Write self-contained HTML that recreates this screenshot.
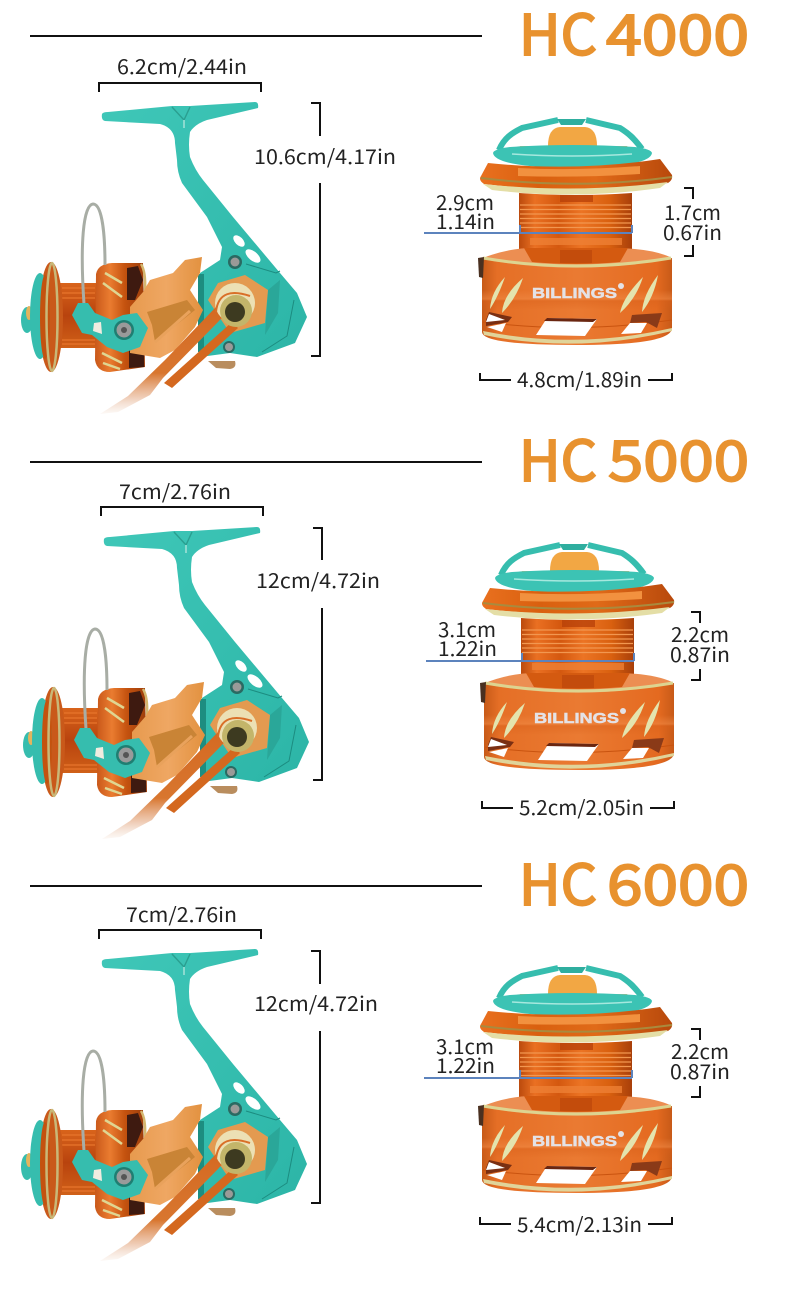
<!DOCTYPE html>
<html><head><meta charset="utf-8"><style>
html,body{margin:0;padding:0;background:#fff}
svg{display:block}
.l{font-family:"Noto Sans CJK SC","DejaVu Sans",sans-serif;font-size:20px;fill:#222}
.t{font-family:"Noto Sans CJK SC","Liberation Sans",sans-serif;font-weight:400;font-size:56px;fill:#e8922f;stroke:#e8922f;stroke-width:1.9px}
.k{fill:none;stroke:#111;stroke-width:2}
.b{fill:none;stroke:#5c83bd;stroke-width:2}
.br{font-family:"Liberation Sans",sans-serif;font-weight:700;font-size:15px;fill:#e4e2e6;stroke:#e4e2e6;stroke-width:.5px}
</style></head><body>
<svg width="790" height="1303" viewBox="0 0 790 1303" xmlns="http://www.w3.org/2000/svg">
<defs>
<linearGradient id="og" x1="0" x2="1" y1="0" y2="0"><stop offset="0" stop-color="#c75a18"/><stop offset=".08" stop-color="#e56f26"/><stop offset=".5" stop-color="#ea7a32"/><stop offset=".92" stop-color="#e46a20"/><stop offset="1" stop-color="#c75a18"/></linearGradient>
<linearGradient id="og2" x1="0" x2="0" y1="0" y2="1"><stop offset="0" stop-color="#f08a46" stop-opacity="0"/><stop offset=".45" stop-color="#f08a46" stop-opacity=".55"/><stop offset=".55" stop-color="#d8601a" stop-opacity=".4"/><stop offset="1" stop-color="#d8601a" stop-opacity="0"/></linearGradient>
<linearGradient id="ng" x1="0" x2="1" y1="0" y2="0"><stop offset="0" stop-color="#bb4a0d"/><stop offset=".14" stop-color="#ea7022"/><stop offset=".35" stop-color="#d4580f"/><stop offset=".55" stop-color="#ec7424"/><stop offset=".8" stop-color="#d9600f"/><stop offset="1" stop-color="#a83f0a"/></linearGradient>
<linearGradient id="ft" x1="0" x2="1" y1="0" y2="0"><stop offset="0" stop-color="#e9701f"/><stop offset=".3" stop-color="#d9600f"/><stop offset=".6" stop-color="#e06a18"/><stop offset="1" stop-color="#b8490c"/></linearGradient>
<linearGradient id="rg" gradientUnits="userSpaceOnUse" x1="0" x2="0" y1="295" y2="415"><stop offset="0" stop-color="#d4671f"/><stop offset=".65" stop-color="#d8762f"/><stop offset=".85" stop-color="#e8b695" stop-opacity=".7"/><stop offset="1" stop-color="#f0dacb" stop-opacity=".15"/></linearGradient>
<linearGradient id="tg" x1="0" x2="1" y1="0" y2="1"><stop offset="0" stop-color="#3fc7b8"/><stop offset="1" stop-color="#2cb5a7"/></linearGradient>
<linearGradient id="bg" x1="0" x2="1" y1="0" y2="0"><stop offset="0" stop-color="#e79a4e"/><stop offset=".5" stop-color="#efa763"/><stop offset="1" stop-color="#e2913f"/></linearGradient>
<linearGradient id="sp" x1="0" x2="0" y1="0" y2="1"><stop offset="0" stop-color="#d9641b"/><stop offset=".5" stop-color="#b8430e"/><stop offset="1" stop-color="#d06018"/></linearGradient>
<linearGradient id="rt" x1="0" x2="1" y1="0" y2="0"><stop offset="0" stop-color="#c9581a"/><stop offset=".3" stop-color="#ea7c30"/><stop offset=".6" stop-color="#c4520f"/><stop offset="1" stop-color="#9c3d0b"/></linearGradient>

<g id="reel">
  <!-- spool -->
  <rect x="60" y="283" width="36" height="65" fill="url(#sp)"/>
  <path d="M62 288H95M62 293H95M62 298H95M62 340H95M62 344H95" stroke="#e8752c" stroke-width="1.3"/>
  <ellipse cx="27" cy="320" rx="6" ry="13" fill="#36bdae"/>
  <ellipse cx="29" cy="313" rx="3" ry="7" fill="#e2b45e"/>
  <ellipse cx="51" cy="317" rx="12" ry="55" fill="#c9591a"/>
  <ellipse cx="40" cy="316" rx="10" ry="43" fill="#36bdae"/>
  <ellipse cx="45" cy="317" rx="5" ry="42" fill="#c4520f"/>
  <ellipse cx="52" cy="317" rx="5.5" ry="54" fill="none" stroke="#c9b878" stroke-width="2.5"/>
  <!-- rotor -->
  <path d="M96 274Q98 264 112 263L143 263L145 367L110 372Q97 372 95 360Z" fill="url(#rt)"/>
  <path d="M127 268L138 266L143 280L135 300L127 300ZM129 350L144 352L144 367L129 368Z" fill="#3e1a10"/>
  <path d="M141 264Q146 272 145 290" fill="none" stroke="#d4b870" stroke-width="2.5"/>
  <path d="M105 273L122 283M103 283L122 297M102 353L122 363M103 363L120 369" stroke="#dfd692" stroke-width="2.5"/>
  <!-- wire -->
  <path d="M84 304C80 245 83 205 93 204C103 204 105 240 105 265" fill="none" stroke="#a8ada5" stroke-width="3"/>
  <!-- arm/body -->
  <path d="M102 114Q103 112 108 112L172 106L190 106L255 102Q259 102 258 108L207 120Q195 124 190 132Q188 145 190 157Q195 170 203 180L233 217L280 273L297 293L307 317L295 343L257 357L230 353L200 357L200 273L220 260L222 247L207 217L182 183Q177 172 177 160L175 143Q175 128 160 124L105 121Q101 120 102 114Z" fill="url(#tg)"/>
  <path d="M172 107L184 120L190 107" fill="none" stroke="#2a9f90" stroke-width="1.4"/>
  <path d="M184 120L184 128" stroke="#a6e2d8" stroke-width="1.5"/>
  <ellipse cx="239" cy="241" rx="7" ry="4" fill="#fff" transform="rotate(45 239 241)"/>
  <ellipse cx="253" cy="256" rx="9" ry="4.5" fill="#fff" transform="rotate(40 253 256)"/>
  <path d="M246 264L276 273L280 271" fill="none" stroke="#1c8c80" stroke-width="1"/>
  <path d="M294 300L287 336L262 352" fill="none" stroke="#1c8c80" stroke-width="1"/>
  <rect x="198" y="274" width="6" height="78" fill="#1d8d80"/>
  <path d="M268 290L280 280L278 313L265 335Z" fill="#2aa799"/>
  <circle cx="235" cy="262" r="7" fill="#2a6a62"/><circle cx="235" cy="262" r="4.5" fill="#9a9a98"/>
  <circle cx="229" cy="347" r="6" fill="#2a6a62"/><circle cx="229" cy="347" r="4" fill="#9a9a98"/>
  <path d="M218 283L245 275L268 290L265 323L230 333L208 300Z" fill="#e39a50"/>
  <!-- foot -->
  <path d="M208 361L235 361Q237 368 230 369L216 368Z" fill="#b98d5e"/>
  <!-- orange body -->
  <path d="M143 292L150 280L173 273L185 260L202 257L200 273L190 290L203 310L195 327L175 350L160 358L130 353L130 307Z" fill="url(#bg)"/>
  <path d="M147 312L187 300L195 310L155 342L152 325Z" fill="#c98436"/>
  <path d="M155 342L190 311" stroke="#e9a25c" stroke-width="3"/>
  <!-- rod -->
  <path d="M227 293L236 302L218 322L163 378L150 395L118 412L100 414L128 396L165 360L215 308Z" fill="url(#rg)"/>
  <path d="M222 331L232 322L238 328L172 388L164 383Z" fill="#d4681f"/>
  <!-- knob -->
  <circle cx="235" cy="303" r="20" fill="#ece0b4"/>
  <path d="M216 312C218 292 232 290 250 296" fill="none" stroke="#d96f28" stroke-width="2"/>
  <circle cx="236" cy="311" r="16" fill="#c3b56a"/>
  <circle cx="235" cy="312" r="10" fill="#3d3a20"/>
  <!-- bail -->
  <path d="M72 315L78 303L88 303L95 313L112 320L123 315L137 313L148 328L140 347L123 353L107 347L92 335L82 333Z" fill="#36bdae"/>
  <path d="M94 323L101 322L102 334L93 331Z" fill="#f0ece0"/>
  <circle cx="124" cy="330" r="10" fill="#1f7e72"/>
  <circle cx="124" cy="330" r="7.5" fill="#9a9a9a"/>
  <circle cx="124" cy="330" r="3" fill="#555"/>
</g>

<g id="spool">
  <!-- flange back disc and center -->
  <path d="M520 146H627L630 150H517Z" fill="#efb470"/>
  <path d="M548 146Q548 128 560 127H585Q597 128 597 146Z" fill="#f2a744"/>
  <!-- spokes -->
  <path d="M499 150C504 138 512 133 522 128L558 120M642 149C634 138 628 133 620 128L586 120" fill="none" stroke="#36bdae" stroke-width="6"/>
  <path d="M557 119H586L582 125H561Z" fill="#2fae9f"/>
  <path d="M493 153Q494 149 510 147Q572 143 635 147Q651 149 652 153Q650 167 572 168Q495 167 493 153Z" fill="#3cc3b4"/>
  <path d="M512 154Q572 158 632 154" stroke="#a6e8de" stroke-width="1.5" fill="none"/>
  <!-- flange -->
  <path d="M488 163Q576 172 660 159L672 175Q673 180 668 183Q576 195 484 184Q478 180 481 176Z" fill="url(#ft)"/>
  <path d="M518 168Q576 171 640 166L640 174Q576 178 518 176Z" fill="#f2913f"/>
  <path d="M481 178Q576 190 672 177" fill="none" stroke="#a98a3e" stroke-width="2"/>
  <path d="M483 184Q576 194 668 182L660 188Q576 200 492 190Z" fill="#e4dea6"/>
  <!-- neck -->
  <path d="M519 193Q576 197 632 193V250H519Z" fill="url(#ng)"/>
  <path d="M520 205H631M520 209.500H631M520 214H631M520 218.500H631M520 223H631M520 227.500H631" stroke="#f29750" stroke-width="1.2"/>
  <rect x="560" y="195" width="33" height="7" fill="#b63f08" opacity=".75"/>
  <rect x="530" y="238" width="92" height="7" fill="#ed7f35" opacity=".8"/>
  <!-- body -->
  <path d="M483 258Q510 247 540 248H612Q650 248 670 257L670 264Q576 276 483 264Z" fill="#ec8e52"/>
  <path d="M524 248H628L620 262Q576 266 532 262Z" fill="#d45a10"/>
  <path d="M560 250H592V263H560Z" fill="#b8420a" opacity=".6"/>
  <path d="M482 259Q576 277 672 258L672 328Q672 345 577 345Q482 345 482 332Z" fill="url(#og)"/>
  <path d="M482 290H672V310H482Z" fill="url(#og2)"/>
  <path d="M483 258Q576 274 671 258" fill="none" stroke="#ddd490" stroke-width="3"/>
  <path d="M478 258L484 257L483 278L479 277Z" fill="#4a3020"/>
  <path d="M483 322Q576 334 672 320" fill="none" stroke="#c9530f" stroke-width="1"/>
  <path d="M483 331Q577 350 672 328L672 331Q577 354 484 335Z" fill="#e0d49a"/>
  <!-- slots -->
  <path d="M489 312L512 317L508 322L486 326L486 320Z" fill="#7a2f12"/>
  <path d="M489 314L505 320L486 322Z" fill="#fff"/>
  <path d="M487 327L506 323L502 332Z" fill="#fff"/>
  <path d="M547 318L597 319L585 336L536 335Z" fill="#fff"/>
  <path d="M547 318L597 319L593 322L544 321Z" fill="#6a2610"/>
  <path d="M632 315L662 313L657 328L646 322L630 323Z" fill="#8a3a18"/>
  <path d="M630 323L647 323L641 333L621 334Z" fill="#fff"/>
  <!-- leaves -->
  <path d="M505 277Q491 292 490 309Q498 297 505 277Z" fill="#e4e4ae"/>
  <path d="M523 278Q503 295 502 313Q516 299 523 278Z" fill="#e4e4ae"/>
  <path d="M643 277Q623 297 620 313Q636 299 643 277Z" fill="#e4e4ae"/>
  <path d="M658 275Q643 295 642 312Q654 297 658 275Z" fill="#e4e4ae"/>
</g>
</defs>

<!-- Section 1 -->
<use href="#reel"/>
<use href="#spool"/>
<text class="br" x="532" y="298" textLength="85" lengthAdjust="spacingAndGlyphs">BILLINGS</text>
<circle cx="621" cy="286" r="3" fill="#e4e2e6"/>
<path d="M30 36H482" stroke="#111" stroke-width="2"/>
<text class="t" x="519" y="55" textLength="78" lengthAdjust="spacingAndGlyphs">HC</text>
<text class="t" x="606" y="55" textLength="143" lengthAdjust="spacingAndGlyphs">4000</text>
<text class="l" x="117" y="74" textLength="130" lengthAdjust="spacingAndGlyphs">6.2cm/2.44in</text>
<path class="k" d="M99 92V83H261V92"/>
<path class="k" d="M311 103H320V136M320 183V356H311"/>
<text class="l" x="254" y="164" textLength="142" lengthAdjust="spacingAndGlyphs">10.6cm/4.17in</text>
<text class="l" x="436" y="210" textLength="58" lengthAdjust="spacingAndGlyphs">2.9cm</text>
<text class="l" x="436" y="229" textLength="59" lengthAdjust="spacingAndGlyphs">1.14in</text>
<path class="b" d="M424 233H632M520 225V233M632 225V233"/>
<text class="l" x="664" y="220" textLength="57" lengthAdjust="spacingAndGlyphs">1.7cm</text>
<text class="l" x="663" y="240" textLength="59" lengthAdjust="spacingAndGlyphs">0.67in</text>
<path class="k" d="M684 188H693V199M693 245V256H684"/>
<path class="k" d="M480 373V380H511M648 380H672V373"/>
<text class="l" x="517" y="387" textLength="125" lengthAdjust="spacingAndGlyphs">4.8cm/1.89in</text>

<!-- Section 2 -->
<use href="#reel" x="2" y="425"/>
<use href="#spool" x="2" y="425"/>
<text class="br" x="534" y="723" textLength="85" lengthAdjust="spacingAndGlyphs">BILLINGS</text>
<circle cx="623" cy="711" r="3" fill="#e4e2e6"/>
<path d="M30 462H482" stroke="#111" stroke-width="2"/>
<text class="t" x="519" y="481" textLength="78" lengthAdjust="spacingAndGlyphs">HC</text>
<text class="t" x="608" y="481" textLength="141" lengthAdjust="spacingAndGlyphs">5000</text>
<text class="l" x="119" y="499" textLength="112" lengthAdjust="spacingAndGlyphs">7cm/2.76in</text>
<path class="k" d="M101 516V507H263V516"/>
<path class="k" d="M313 528H322V560M322 608V780H313"/>
<text class="l" x="256" y="588" textLength="124" lengthAdjust="spacingAndGlyphs">12cm/4.72in</text>
<text class="l" x="438" y="637" textLength="58" lengthAdjust="spacingAndGlyphs">3.1cm</text>
<text class="l" x="438" y="656" textLength="59" lengthAdjust="spacingAndGlyphs">1.22in</text>
<path class="b" d="M426 661H634M522 653V661M634 653V661"/>
<text class="l" x="671" y="642" textLength="58" lengthAdjust="spacingAndGlyphs">2.2cm</text>
<text class="l" x="670" y="662" textLength="60" lengthAdjust="spacingAndGlyphs">0.87in</text>
<path class="k" d="M691 612H700V623M700 669V680H691"/>
<path class="k" d="M482 801V808H513M650 808H674V801"/>
<text class="l" x="519" y="815" textLength="125" lengthAdjust="spacingAndGlyphs">5.2cm/2.05in</text>

<!-- Section 3 -->
<use href="#reel" x="0" y="847"/>
<use href="#spool" x="0" y="848"/>
<text class="br" x="532" y="1146" textLength="85" lengthAdjust="spacingAndGlyphs">BILLINGS</text>
<circle cx="621" cy="1134" r="3" fill="#e4e2e6"/>
<path d="M30 886H482" stroke="#111" stroke-width="2"/>
<text class="t" x="519" y="905" textLength="78" lengthAdjust="spacingAndGlyphs">HC</text>
<text class="t" x="607" y="905" textLength="142" lengthAdjust="spacingAndGlyphs">6000</text>
<text class="l" x="126" y="922" textLength="111" lengthAdjust="spacingAndGlyphs">7cm/2.76in</text>
<path class="k" d="M99 939V930H261V939"/>
<path class="k" d="M311 951H320V984M320 1031V1203H311"/>
<text class="l" x="254" y="1011" textLength="124" lengthAdjust="spacingAndGlyphs">12cm/4.72in</text>
<text class="l" x="436" y="1054" textLength="58" lengthAdjust="spacingAndGlyphs">3.1cm</text>
<text class="l" x="436" y="1073" textLength="59" lengthAdjust="spacingAndGlyphs">1.22in</text>
<path class="b" d="M424 1078H632M520 1070V1078M632 1070V1078"/>
<text class="l" x="671" y="1059" textLength="58" lengthAdjust="spacingAndGlyphs">2.2cm</text>
<text class="l" x="670" y="1079" textLength="60" lengthAdjust="spacingAndGlyphs">0.87in</text>
<path class="k" d="M691 1029H700V1040M700 1086V1097H691"/>
<path class="k" d="M480 1217V1224H511M648 1224H672V1217"/>
<text class="l" x="517" y="1232" textLength="125" lengthAdjust="spacingAndGlyphs">5.4cm/2.13in</text>
</svg>
</body></html>
